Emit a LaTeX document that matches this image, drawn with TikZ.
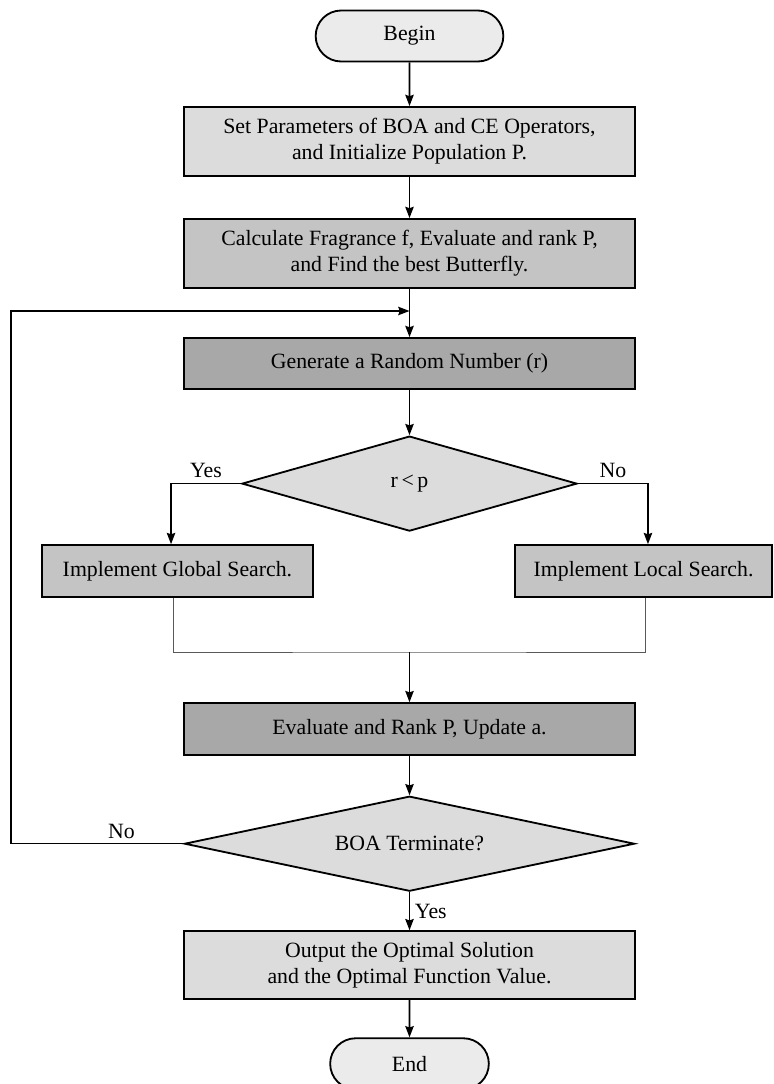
\documentclass[tikz,border=0pt]{standalone}
\usepackage{fontspec}
\setmainfont{Liberation Serif}
\usetikzlibrary{shapes.geometric,shapes.misc,positioning,arrows.meta}

\definecolor{pale}{HTML}{EBEBEB}
\definecolor{light}{HTML}{DCDCDC}
\definecolor{mid}{HTML}{C4C4C4}
\definecolor{dark}{HTML}{A8A8A8}

\begin{document}
\begin{tikzpicture}[%
>={Stealth[length=8pt,width=6pt,inset=1pt]},
x=0.025cm, y=-0.025cm,
on grid,
font=\fontsize{15.5}{18.5}\selectfont,
term/.style={rounded rectangle, draw, line width=1.3pt, fill=pale, minimum width=4.925cm, minimum height=1.275cm},
box/.style={rectangle, draw, line width=1.4pt, minimum width=11.275cm, align=center},
test/.style={diamond, draw, line width=1.3pt, fill=light, inner sep=0pt, minimum height=2.375cm},
flow/.style={->, line width=1.1pt},
thinline/.style={line width=0.7pt, draw=black!65}
]
\useasboundingbox (0,0) rectangle (774,1084);

\node[term] (begin) at (409.5,36) {Begin};
\node[box, fill=light, minimum height=1.725cm] (set) [below=2.6375cm of begin] {Set Parameters of BOA and CE Operators,\\and Initialize Population P.};
\node[box, fill=mid, minimum height=1.725cm] (fragrance) [below=2.8cm of set] {Calculate Fragrance f, Evaluate and rank P,\\and Find the best Butterfly.};
\node[box, fill=dark, minimum height=1.275cm] (rand) [below=2.75cm of fragrance] {Generate a Random Number (r)};
\node[test, aspect=3.5, minimum width=8.375cm] (prob) [below=3cm of rand] {r\thinspace<\thinspace p};
\node[box, fill=mid, minimum width=6.775cm, minimum height=1.3cm] (global) [below left=2.1875cm and 5.8cm of prob] {Implement Global Search.};
\node[box, fill=mid, minimum width=6.425cm, minimum height=1.3cm] (local) [below right=2.1875cm and 5.85cm of prob] {Implement Local Search.};
\node[box, fill=dark, minimum height=1.3cm] (update) [below=6.1375cm of prob] {Evaluate and Rank P, Update a.};
\node[test, aspect=4.7, minimum width=11.25cm] (stop) [below=2.8625cm of update] {BOA Terminate?};
\node[box, fill=light, minimum height=1.7cm] (out) [below=3.0375cm of stop] {Output the Optimal Solution\\and the Optimal Function Value.};
\node[term, minimum width=4.2cm] (end) [below=2.4625cm of out] {End};

\coordinate (back) at (409.5,311);
\coordinate (corner) at (11,311);
\coordinate (merge) at (409.5,652);

\draw[flow] (begin) -- (set);
\draw[flow] (set) -- (fragrance);
\draw[flow] (fragrance) -- (rand);
\draw[flow] (rand) -- (prob);
\draw[flow] (prob.west) -| node[pos=0.25, above] {Yes} ([xshift=-0.16cm]global.north);
\draw[flow] (prob.east) -| node[pos=0.25, above] {No} ([xshift=0.11cm]local.north);
\draw[thinline] ([xshift=-0.11cm]global.south) |- (merge) -| ([xshift=0.06cm]local.south);
\draw[flow] (merge) -- (update);
\draw[flow] (update) -- (stop);
\draw[flow] (stop) -- node[right] {Yes} (out);
\draw[flow] (out) -- (end);
\draw[flow] (stop.west) -| node[pos=0.18, above] {No} (corner) -- (back);

\end{tikzpicture}
\end{document}
